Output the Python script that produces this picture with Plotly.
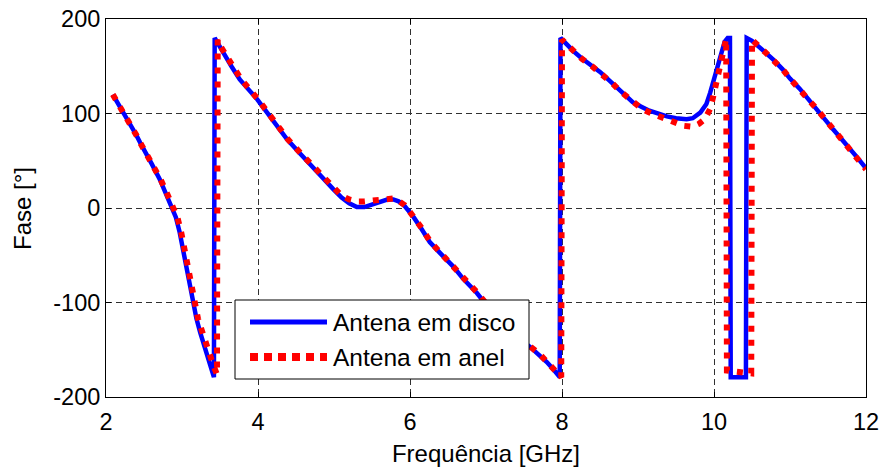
import plotly.graph_objects as go

# ---- data ----
disco_x = [2.09, 2.15, 2.2, 2.25, 2.3, 2.4, 2.45, 2.5, 2.6, 2.71, 2.8, 2.87, 2.92, 2.97, 3.02,
           3.08, 3.14, 3.19, 3.24, 3.29, 3.34, 3.38, 3.42,
           3.43, 3.48, 3.54, 3.65, 3.76, 3.88, 3.99, 4.12, 4.25, 4.38, 4.55, 4.72, 4.85, 4.99,
           5.1, 5.2, 5.3, 5.4, 5.5, 5.6, 5.7, 5.78, 5.85, 5.92, 5.97, 6.05, 6.15, 6.26, 6.4,
           6.57, 6.7, 6.88, 7.0, 7.1, 7.2, 7.3, 7.45, 7.58, 7.7, 7.8, 7.9, 7.97,
           7.98, 8.05, 8.15, 8.25, 8.4, 8.5, 8.65, 8.75, 8.93, 9.05, 9.15, 9.38, 9.5, 9.64,
           9.72, 9.82, 9.9, 9.95, 10.0, 10.04, 10.09, 10.14, 10.18, 10.21,
           10.22, 10.32, 10.42,
           10.43, 10.5, 10.6, 10.7, 10.78, 10.9, 11.0, 11.13, 11.25, 11.35, 11.45, 11.57,
           11.7, 11.8, 11.9, 12.0]
disco_y = [120, 112, 105, 99, 92, 77, 69, 62, 47, 30, 14, 1, -10, -26, -48,
           -73, -100, -117, -132, -145, -158, -168, -179,
           180, 172, 165, 150, 136, 125, 115, 101, 87, 73, 58, 44, 32, 20,
           11, 5, 1, 1, 4, 7, 9, 9, 7, 3, -2, -10, -22, -36, -48,
           -62, -75, -90, -102, -112, -120, -128, -139, -147, -155, -163, -172, -179,
           180, 174, 166, 159, 150, 144, 133, 125, 112, 107, 103, 97, 95, 94,
           95, 101, 110, 122, 137, 150, 165, 176, 180, 180,
           -179, -179, -179,
           180, 177, 170, 163, 157, 147, 137, 126, 114, 105, 95, 83,
           71, 62, 52, 42]

anel_x = [2.09, 2.15, 2.2, 2.25, 2.3, 2.4, 2.45, 2.5, 2.6, 2.72, 2.81, 2.88, 2.94, 2.99, 3.04,
          3.1, 3.16, 3.21, 3.27, 3.32, 3.37, 3.42, 3.46,
          3.47, 3.5, 3.56, 3.67, 3.78, 3.9, 4.0, 4.13, 4.26, 4.39, 4.56, 4.73, 4.86, 5.0,
          5.1, 5.2, 5.3, 5.4, 5.5, 5.6, 5.7, 5.78, 5.86, 5.93, 5.98, 6.06, 6.16, 6.27, 6.41,
          6.58, 6.71, 6.89, 7.01, 7.11, 7.21, 7.31, 7.46, 7.59, 7.71, 7.81, 7.91, 7.99,
          8.0, 8.06, 8.16, 8.26, 8.41, 8.51, 8.66, 8.76, 8.94, 9.05, 9.15, 9.38, 9.5, 9.6,
          9.72, 9.8, 9.88, 9.95, 9.99, 10.04, 10.08, 10.12, 10.16,
          10.17, 10.33, 10.49,
          10.5, 10.55, 10.62, 10.71, 10.79, 10.91, 11.01, 11.14, 11.26, 11.36, 11.46, 11.58,
          11.71, 11.81, 11.91, 12.0]
anel_y = [120, 112, 105, 99, 92, 77, 69, 62, 47, 30, 14, 1, -10, -26, -48,
          -73, -100, -117, -132, -145, -158, -168, -176,
          178, 172, 165, 150, 136, 125, 115, 101, 87, 73, 58, 44, 33, 22,
          13, 9, 7, 7, 8, 9, 10, 10, 7, 3, -2, -10, -22, -36, -48,
          -62, -75, -90, -102, -112, -120, -128, -139, -147, -155, -163, -172, -179,
          178, 173, 165, 158, 149, 143, 132, 124, 111, 105, 101, 94, 90, 87,
          86, 89, 94, 105, 118, 136, 152, 165, 179,
          -172, -173, -175,
          178, 175, 169, 162, 156, 146, 136, 125, 113, 104, 94, 82,
          70, 61, 51, 41]

series_names = ["Antena em disco", "Antena em anel"]
x_ticks = [2, 4, 6, 8, 10, 12]
y_ticks = [-200, -100, 0, 100, 200]

FONT = "Liberation Sans, Arial, sans-serif"

fig = go.Figure()
fig.add_trace(go.Scatter(x=disco_x, y=disco_y, mode="lines", name=series_names[0],
                         line=dict(color="#0000ff", width=4.5), showlegend=False))
fig.add_trace(go.Scatter(x=anel_x, y=anel_y, mode="lines", name=series_names[1],
                         line=dict(color="#ff0000", width=6, dash="6px,8px"), showlegend=False))

# ---- manual legend (MATLAB style box) ----
L, R, T, B = 106, 866, 19, 397
W, H = R - L, B - T
def px(xp):
    return (xp - L) / W
def py(yp):
    return (B - yp) / H

fig.add_shape(type="rect", xref="paper", yref="paper",
              x0=px(235), x1=px(529), y0=py(379), y1=py(300),
              line=dict(color="black", width=1), fillcolor="white", layer="above")
fig.add_shape(type="line", xref="paper", yref="paper",
              x0=px(250), x1=px(327), y0=py(322), y1=py(322),
              line=dict(color="#0000ff", width=5), layer="above")
fig.add_shape(type="line", xref="paper", yref="paper",
              x0=px(250), x1=px(327), y0=py(357), y1=py(357),
              line=dict(color="#ff0000", width=8, dash="8px,6px"), layer="above")
for name, yy in zip(series_names, [322, 357]):
    fig.add_annotation(xref="paper", yref="paper", x=px(331), y=py(yy),
                       text=name, showarrow=False, xanchor="left", yanchor="middle",
                       font=dict(family=FONT, size=24.5, color="black"))

# y-axis title placed as rotated text (MATLAB position)
fig.add_annotation(xref="paper", yref="paper", x=px(22), y=py(209),
                   text="Fase [°]", showarrow=False, textangle=-90,
                   xanchor="center", yanchor="middle",
                   font=dict(family=FONT, size=24, color="black"))

axis_common = dict(
    showline=True, linecolor="black", linewidth=1, mirror="ticks",
    ticks="inside", ticklen=5, tickcolor="black",
    showgrid=True, gridcolor="#303030", gridwidth=1, griddash="6px,4px",
    zeroline=False, automargin=False,
    tickfont=dict(family=FONT, size=23.5, color="black"),
)

fig.update_xaxes(range=[2, 12], tickvals=x_ticks, ticktext=[str(v) for v in x_ticks],
                 ticklabelstandoff=4,
                 title=dict(text="Frequência [GHz]", font=dict(family=FONT, size=24, color="black"),
                            standoff=10),
                 **axis_common)
fig.update_yaxes(range=[-200, 200], tickvals=y_ticks, ticktext=[str(v) for v in y_ticks],
                 **axis_common)

fig.update_layout(
    width=882, height=467,
    margin=dict(l=L, r=882 - R, t=T, b=467 - B),
    plot_bgcolor="white", paper_bgcolor="white",
    showlegend=False,
)

fig.write_html("out.html")
